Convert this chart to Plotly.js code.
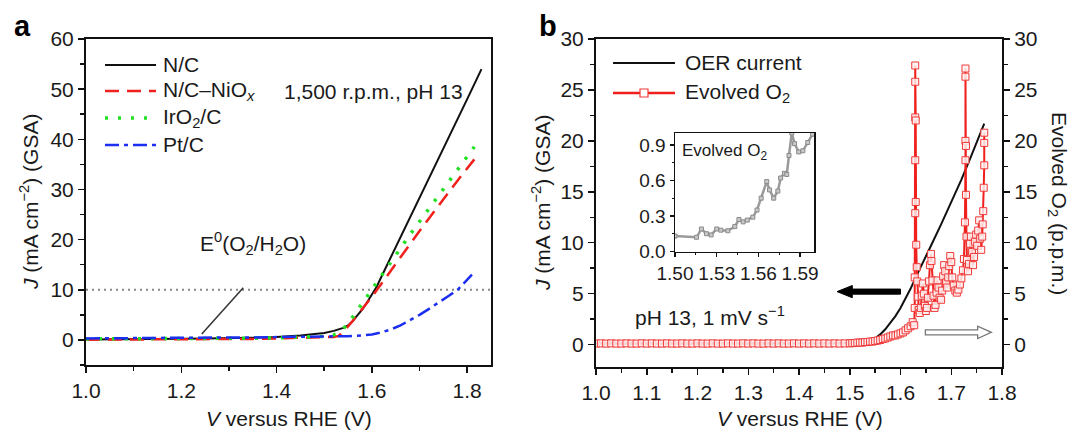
<!DOCTYPE html>
<html><head><meta charset="utf-8">
<script src="https://cdn.plot.ly/plotly-3.0.1.min.js"></script>
<style>html,body{margin:0;padding:0;background:#fff}#chart{width:1071px;height:437px}</style>
</head><body><div id="chart"></div>
<script>
// ---------- Panel a : polarization curves ----------
const ncX = [1.00,1.05,1.10,1.15,1.20,1.25,1.30,1.35,1.40,1.45,1.50,1.52,1.54,1.55,1.56,1.57,1.58,1.59,1.60,1.61,1.62,1.64,1.66,1.68,1.70,1.72,1.74,1.76,1.78,1.80,1.83];
const ncY = [0.1,0.1,0.15,0.2,0.25,0.3,0.35,0.45,0.6,0.9,1.4,1.8,2.4,2.9,3.8,4.9,6.1,7.5,9.0,10.6,12.6,16.5,20.5,24.4,28.3,32.3,36.2,40.2,44.1,48.0,54.0];

const nioX = [1.00,1.05,1.10,1.15,1.20,1.25,1.30,1.35,1.40,1.45,1.50,1.52,1.53,1.54,1.56,1.58,1.60,1.62,1.64,1.66,1.68,1.70,1.72,1.74,1.76,1.78,1.80,1.815];
const nioY = [0.05,0.05,0.1,0.1,0.1,0.1,0.15,0.2,0.3,0.4,0.5,0.6,0.8,1.6,3.8,6.1,8.6,11.2,13.9,16.5,19.1,21.7,24.3,26.8,29.3,31.8,34.3,36.0];

const irX = [1.00,1.05,1.10,1.15,1.20,1.25,1.30,1.35,1.40,1.45,1.50,1.52,1.53,1.54,1.56,1.58,1.60,1.62,1.64,1.66,1.68,1.70,1.72,1.74,1.76,1.78,1.80,1.815];
const irY = [0.2,0.2,0.2,0.25,0.25,0.3,0.3,0.35,0.4,0.5,0.7,1.0,1.4,2.2,4.6,7.3,10.1,12.9,15.6,18.3,21.0,23.6,26.2,28.8,31.4,34.0,36.6,38.5];

const ptX = [1.00,1.05,1.10,1.15,1.20,1.25,1.30,1.35,1.40,1.45,1.50,1.55,1.58,1.60,1.62,1.64,1.66,1.68,1.70,1.72,1.74,1.76,1.78,1.81];
const ptY = [0.3,0.35,0.4,0.4,0.45,0.45,0.5,0.5,0.55,0.6,0.65,0.75,0.9,1.1,1.5,2.1,2.9,3.9,5.0,6.2,7.4,8.7,10.0,13.0];

// ---------- Panel b : OER current and evolved O2 ----------
const oerX = [1.00,1.10,1.20,1.30,1.40,1.50,1.52,1.53,1.54,1.55,1.56,1.57,1.58,1.59,1.60,1.61,1.62,1.63,1.64,1.66,1.68,1.70,1.72,1.74,1.76,1.765];
const oerY = [0.1,0.1,0.1,0.1,0.1,0.1,0.12,0.2,0.35,0.6,1.0,1.5,2.1,2.8,3.6,4.5,5.5,6.6,7.6,9.7,11.8,14.0,16.2,18.6,21.0,21.7];

const o2X = [1.00,1.01,1.02,1.03,1.04,1.05,1.06,1.07,1.08,1.09,1.10,1.11,1.12,1.13,1.14,1.15,1.16,1.17,1.18,1.19,1.20,
  1.21,1.22,1.23,1.24,1.25,1.26,1.27,1.28,1.29,1.30,1.31,1.32,1.33,1.34,1.35,1.36,1.37,1.38,1.39,1.40,
  1.41,1.42,1.43,1.44,1.45,1.46,1.47,1.48,1.49,1.50,
  1.505,1.51,1.515,1.52,1.525,1.53,1.535,1.54,1.545,1.55,1.555,1.56,1.565,1.57,1.575,1.58,1.585,1.59,1.595,1.60,
  1.605,1.61,1.615,1.62,1.624,1.627,1.628,1.628,1.629,1.629,1.629,1.629,1.629,1.630,1.630,1.631,1.632,1.633,1.634,
  1.636,1.638,1.640,1.642,1.644,1.646,1.648,1.650,1.652,1.654,1.656,1.658,1.660,1.661,1.663,1.665,1.667,1.669,
  1.671,1.673,1.675,1.677,1.680,1.682,1.684,1.686,1.688,1.690,1.692,1.694,1.696,1.698,1.700,1.702,1.705,1.708,
  1.711,1.714,1.717,1.720,1.723,1.725,1.727,1.728,1.728,1.728,1.728,1.729,1.729,1.730,1.731,1.733,1.735,1.737,
  1.739,1.741,1.743,1.745,1.747,1.749,1.751,1.753,1.755,1.757,1.759,1.761,1.762,1.763,1.764,1.765,1.765,1.765];
const o2Y = [0.1,0.12,0.1,0.12,0.1,0.1,0.12,0.1,0.1,0.12,0.1,0.12,0.1,0.1,0.12,0.1,0.1,0.12,0.1,0.1,0.12,
  0.1,0.1,0.12,0.1,0.1,0.12,0.1,0.1,0.12,0.1,0.12,0.1,0.1,0.12,0.1,0.12,0.1,0.1,0.12,0.1,
  0.12,0.1,0.12,0.1,0.12,0.1,0.12,0.1,0.12,0.12,
  0.15,0.15,0.2,0.2,0.2,0.25,0.25,0.3,0.3,0.35,0.4,0.45,0.55,0.6,0.7,0.8,0.9,0.9,1.0,1.1,
  1.2,1.4,1.6,1.8,2.2,1.9,3.6,6.6,12.9,18.1,22.3,25.8,27.4,22.0,14.0,9.8,7.6,6.2,4.7,
  3.4,3.1,3.6,4.8,6.0,5.0,3.8,3.3,3.6,4.6,6.2,7.8,8.9,8.2,6.3,4.8,3.6,3.9,
  5.1,6.3,5.6,4.6,4.4,5.3,6.7,7.8,7.2,6.1,5.6,6.6,7.7,8.7,8.1,6.6,5.8,5.3,
  5.1,5.4,5.9,6.5,7.3,8.4,12.0,18.1,20.0,26.3,27.1,19.5,14.7,10.6,8.3,7.2,7.9,9.9,
  10.6,9.1,7.8,8.6,10.1,10.8,9.7,11.2,12.2,10.4,9.3,10.6,11.8,13.1,15.4,17.6,19.8,20.8];

// ---------- Inset : evolved O2 near onset ----------
const insX = [1.500,1.5155,1.519,1.5226,1.526,1.530,1.533,1.538,1.543,1.546,1.549,1.552,1.556,1.559,1.562,1.566,1.568,1.571,1.574,1.576,1.5787,1.5804,1.582,1.584,1.586,1.589,1.592,1.5955,1.599];
const insY = [0.13,0.12,0.19,0.15,0.14,0.19,0.18,0.175,0.21,0.27,0.25,0.265,0.29,0.35,0.45,0.59,0.52,0.45,0.51,0.62,0.66,0.65,0.81,1.0,0.91,0.84,0.85,0.92,0.99];

// legend labels
const legA = ['N/C', 'N/C–NiO<sub><i>x</i></sub>', 'IrO<sub>2</sub>/C', 'Pt/C'];
const legB = ['OER current', 'Evolved O<sub>2</sub>'];

const W = 1071, H = 437;
const FONT = 'Liberation Sans, Arial, Helvetica, sans-serif';
const TXT = '#1a1a1a';
const FS = 21;
const px = v => v / W;
const py = v => 1 - v / H;

const RED = '#f0201c', GREEN = '#22e022', BLUE = '#1c2ef0', BLACK = '#111';
const sty = {
  nc: {color: BLACK, width: 2},
  nio: {color: RED, width: 2.5, dash: '14px,8px'},
  ir: {color: GREEN, width: 3.5, dash: '3px,10px'},
  pt: {color: BLUE, width: 2.5, dash: '14px,5px,4px,5px'}
};

const traces = [
  {x: ncX, y: ncY, name: legA[0], mode: 'lines', line: sty.nc, xaxis: 'x', yaxis: 'y'},
  {x: nioX, y: nioY, name: legA[1], mode: 'lines', line: sty.nio, xaxis: 'x', yaxis: 'y'},
  {x: irX, y: irY, name: legA[2], mode: 'lines', line: sty.ir, xaxis: 'x', yaxis: 'y'},
  {x: ptX, y: ptY, name: legA[3], mode: 'lines', line: sty.pt, xaxis: 'x', yaxis: 'y'},
  {x: oerX, y: oerY, name: legB[0], mode: 'lines', line: {color: BLACK, width: 2}, xaxis: 'x2', yaxis: 'y2'},
  {x: o2X, y: o2Y, name: legB[1], mode: 'lines+markers', line: {color: RED, width: 2},
   marker: {symbol: 'square', size: 7, color: 'rgba(255,240,240,0.85)', line: {color: '#f03a3a', width: 1}},
   xaxis: 'x2', yaxis: 'y3'},
  {x: insX, y: insY, name: 'inset', mode: 'lines+markers', line: {color: '#9a9a9a', width: 2.5},
   marker: {symbol: 'square', size: 4, color: '#c8c8c8', line: {color: '#8a8a8a', width: 1}}, xaxis: 'x3', yaxis: 'y4'}
];

const axBase = {showline: true, linecolor: '#111', linewidth: 2, mirror: true, ticks: 'outside', ticklen: 6, tickwidth: 1.5,
  tickcolor: '#111', showgrid: false, zeroline: false, tickfont: {family: FONT, size: FS, color: TXT}};
const mn = (d, l) => ({dtick: d, ticklen: l, tickwidth: 1.5, ticks: 'outside', tickcolor: '#111'});

function ann(text, x, y, opts) {
  return Object.assign({text: text, xref: 'paper', yref: 'paper', x: px(x), y: py(y), xanchor: 'center', yanchor: 'middle',
    showarrow: false, font: {size: FS, family: FONT, color: TXT}}, opts || {});
}

const shapes = [
  {type: 'line', xref: 'x', yref: 'y', x0: 1.0, x1: 1.85, y0: 10, y1: 10, line: {color: '#888', width: 2, dash: '2px,4px'}, layer: 'below'},
  {type: 'line', xref: 'x', yref: 'y', x0: 1.243, y0: 1.2, x1: 1.33, y1: 10.4, line: {color: '#333', width: 1.5}},
  {type: 'path', xref: 'x2', yref: 'y2', fillcolor: '#000', line: {color: '#000', width: 1},
   path: 'M1.60,4.95 L1.505,4.95 L1.505,4.6 L1.475,5.2 L1.505,5.8 L1.505,5.45 L1.60,5.45 Z'},
  {type: 'path', xref: 'x2', yref: 'y2', fillcolor: '#fff', line: {color: '#777', width: 1.3},
   path: 'M1.649,0.95 L1.752,0.95 L1.752,0.6 L1.779,1.2 L1.752,1.8 L1.752,1.45 L1.649,1.45 Z'}
];
// legend keys (panel a)
const rowsA = [65, 91, 118, 145];
[sty.nc, sty.nio, sty.ir, sty.pt].forEach((s, i) => {
  shapes.push({type: 'line', xref: 'paper', yref: 'paper', x0: px(105), x1: px(156), y0: py(rowsA[i]), y1: py(rowsA[i]), line: s});
});
// legend keys (panel b)
const rowsB = [63, 93];
shapes.push({type: 'line', xref: 'paper', yref: 'paper', x0: px(613), x1: px(675), y0: py(rowsB[0]), y1: py(rowsB[0]), line: {color: BLACK, width: 2}});
shapes.push({type: 'line', xref: 'paper', yref: 'paper', x0: px(613), x1: px(675), y0: py(rowsB[1]), y1: py(rowsB[1]), line: {color: RED, width: 2.5}});
shapes.push({type: 'rect', xref: 'paper', yref: 'paper', x0: px(640), x1: px(648), y0: py(rowsB[1] + 4), y1: py(rowsB[1] - 4), fillcolor: '#fff', line: {color: '#f03a3a', width: 1.2}});

const annotations = [
  ann('<b>a</b>', 22, 26, {font: {size: 29, family: FONT, color: '#000'}}),
  ann('<b>b</b>', 548, 26, {font: {size: 29, family: FONT, color: '#000'}}),
  ann('<i>V</i> versus RHE (V)', 289, 418),
  ann('<i>V</i> versus RHE (V)', 800, 418),
  ann('<i>J</i> (mA cm<sup>−2</sup>) (GSA)', 29, 202, {textangle: -90}),
  ann('<i>J</i> (mA cm<sup>−2</sup>) (GSA)', 541, 203, {textangle: -90}),
  ann('Evolved O<sub>2</sub> (p.p.m.)', 1058, 203, {textangle: 90}),
  ann('1,500 r.p.m., pH 13', 282, 91, {xanchor: 'left'}),
  ann('E<sup>0</sup>(O<sub>2</sub>/H<sub>2</sub>O)', 253, 243),
  ann('pH 13, 1 mV s<sup>−1</sup>', 633, 316, {xanchor: 'left'}),
  ann('Evolved O<sub>2</sub>', 680, 152, {xanchor: 'left', font: {size: 17, family: FONT, color: TXT}})
];
legA.forEach((t, i) => annotations.push(ann(t, 161, rowsA[i], {xanchor: 'left'})));
legB.forEach((t, i) => annotations.push(ann(t, 683, rowsB[i], {xanchor: 'left'})));

const layout = {
  width: W, height: H, margin: {l: 0, r: 0, t: 0, b: 0}, showlegend: false,
  paper_bgcolor: '#fff', plot_bgcolor: 'rgba(0,0,0,0)',
  font: {family: FONT, color: TXT},
  xaxis: Object.assign({}, axBase, {domain: [px(86), px(491)], range: [1.0, 1.85], anchor: 'y', tick0: 1.0, dtick: 0.2, tickformat: '.1f', minor: mn(0.1, 4)}),
  yaxis: Object.assign({}, axBase, {domain: [py(365), py(39)], range: [-5, 60], anchor: 'x', tick0: 0, dtick: 10, minor: mn(5, 4)}),
  xaxis2: Object.assign({}, axBase, {domain: [px(596), px(1002)], range: [1.0, 1.8], anchor: 'y2', tick0: 1.0, dtick: 0.1, tickformat: '.1f', minor: mn(0.05, 4)}),
  yaxis2: Object.assign({}, axBase, {domain: [py(367), py(39)], range: [-2.2, 30], anchor: 'x2', tick0: 0, dtick: 5, minor: mn(2.5, 4)}),
  yaxis3: Object.assign({}, axBase, {overlaying: 'y2', side: 'right', range: [-2.2, 30], anchor: 'x2', tick0: 0, dtick: 5, mirror: false, minor: mn(2.5, 4)}),
  xaxis3: Object.assign({}, axBase, {domain: [px(675), px(814)], range: [1.50, 1.60], anchor: 'y4', tick0: 1.50, dtick: 0.03, tickformat: '.2f',
    linewidth: 1.5, ticklen: 4, tickfont: {family: FONT, size: 19, color: TXT}, minor: {dtick: 0.015, ticklen: 2, tickwidth: 1, ticks: 'outside', tickcolor: '#111'}}),
  yaxis4: Object.assign({}, axBase, {domain: [py(251.5), py(133)], range: [0, 1.0], anchor: 'x3', tick0: 0, dtick: 0.3, tickformat: '.1f',
    linewidth: 1.5, ticklen: 4, tickfont: {family: FONT, size: 19, color: TXT}, minor: {dtick: 0.15, ticklen: 2, tickwidth: 1, ticks: 'outside', tickcolor: '#111'}}),
  shapes: shapes,
  annotations: annotations
};

Plotly.newPlot('chart', traces, layout, {staticPlot: true});
</script>
</body></html>
